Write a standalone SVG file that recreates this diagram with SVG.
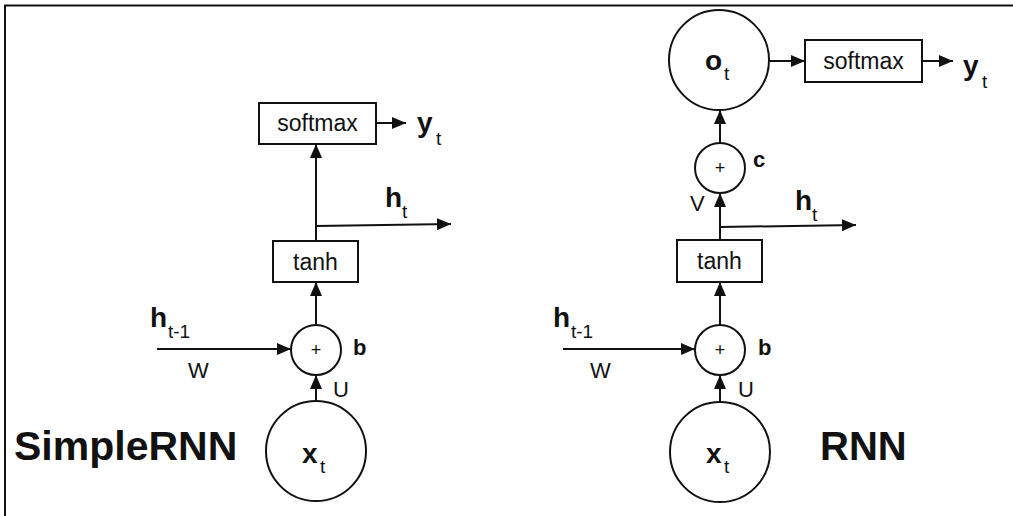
<svg xmlns="http://www.w3.org/2000/svg" width="1013" height="516" viewBox="0 0 1013 516">
<defs>
<marker id="ah" markerUnits="userSpaceOnUse" markerWidth="15" markerHeight="13" refX="14" refY="6" orient="auto">
<path d="M0,0 L14,6 L0,12 z" fill="#111"/>
</marker>
<style>
.ln{stroke:#111;stroke-width:2;fill:none}
.ar{stroke:#111;stroke-width:2;fill:none;marker-end:url(#ah)}
.nd{stroke:#111;stroke-width:2;fill:#fff}
text{font-family:"Liberation Sans",Arial,sans-serif;fill:#111}
.box{font-size:23px;text-anchor:middle}
.plus{font-size:18px;text-anchor:middle}
.big{font-size:28px;font-weight:bold}
.sub{font-size:19px}
.lbl{font-size:22px}
.blbl{font-size:22px;font-weight:bold}
.title{font-size:40px;font-weight:bold}
.title2{font-size:41px;font-weight:bold}
</style>
</defs>
<rect width="1013" height="516" fill="#fff"/>
<path d="M5,516 L5,5.5 L1013,5.5" class="ln" stroke-width="2"/>

<g id="connectors">
<line x1="316" y1="241" x2="316" y2="144" class="ar"/>
<line x1="316" y1="226" x2="451" y2="224" class="ar"/>
<line x1="376" y1="123" x2="406" y2="123" class="ar"/>
<line x1="316" y1="325" x2="316" y2="282" class="ar"/>
<line x1="157" y1="349" x2="291" y2="349" class="ar"/>
<line x1="316" y1="401" x2="316" y2="375" class="ar"/>

<line x1="720" y1="240" x2="720" y2="193" class="ar"/>
<line x1="720" y1="227" x2="856" y2="225" class="ar"/>
<line x1="720" y1="143" x2="720" y2="110" class="ar"/>
<line x1="769" y1="61" x2="805" y2="61" class="ar"/>
<line x1="922" y1="61" x2="953" y2="61" class="ar"/>
<line x1="720" y1="325" x2="720" y2="282" class="ar"/>
<line x1="563" y1="349" x2="695" y2="349" class="ar"/>
<line x1="720" y1="402" x2="720" y2="375" class="ar"/>
</g>

<g id="left-softmax"><rect x="259" y="103" width="117" height="41" class="nd"/><text x="317.5" y="131" class="box">softmax</text></g>
<g id="left-yt"><text x="417" y="132" class="big">y</text><text x="436" y="145" class="sub">t</text></g>
<g id="left-ht"><text x="385" y="207" class="big">h</text><text x="402" y="218" class="sub">t</text></g>
<g id="left-tanh"><rect x="273" y="241" width="85" height="41" class="nd"/><text x="315.5" y="270" class="box">tanh</text></g>
<g id="left-htm1"><text x="150" y="327" class="big">h</text><text x="168" y="338" class="sub">t-1</text><text x="188" y="378" class="lbl">W</text></g>
<g id="left-plus"><circle cx="316" cy="350" r="25" class="nd"/><text x="316" y="356" class="plus">+</text><text x="353" y="355" class="blbl">b</text></g>
<g id="left-xt"><circle cx="316" cy="451" r="50" class="nd"/><text x="302" y="463" class="big">x</text><text x="320" y="473" class="sub">t</text><text x="333" y="397" class="lbl">U</text></g>
<g id="title-simplernn"><text x="14" y="460" class="title2">SimpleRNN</text></g>

<g id="right-ot"><circle cx="719" cy="60" r="50" class="nd"/><text x="705" y="70" class="big">o</text><text x="724" y="80" class="sub">t</text></g>
<g id="right-softmax"><rect x="805" y="40" width="117" height="42" class="nd"/><text x="863.5" y="69" class="box">softmax</text></g>
<g id="right-yt"><text x="963" y="75" class="big">y</text><text x="982" y="88" class="sub">t</text></g>
<g id="right-plusc"><circle cx="720" cy="168" r="25" class="nd"/><text x="720" y="174" class="plus">+</text><text x="753" y="167" class="blbl">c</text><text x="690" y="211" class="lbl">V</text></g>
<g id="right-ht"><text x="795" y="210" class="big">h</text><text x="812" y="221" class="sub">t</text></g>
<g id="right-tanh"><rect x="677" y="240" width="85" height="42" class="nd"/><text x="719.5" y="269" class="box">tanh</text></g>
<g id="right-htm1"><text x="553" y="327" class="big">h</text><text x="571" y="338" class="sub">t-1</text><text x="590" y="378" class="lbl">W</text></g>
<g id="right-plus"><circle cx="720" cy="350" r="25" class="nd"/><text x="720" y="356" class="plus">+</text><text x="758" y="355" class="blbl">b</text></g>
<g id="right-xt"><circle cx="720" cy="452" r="50" class="nd"/><text x="706" y="463" class="big">x</text><text x="724" y="473" class="sub">t</text><text x="738" y="397" class="lbl">U</text></g>
<g id="title-rnn"><text x="820" y="460" class="title">RNN</text></g>
</svg>
